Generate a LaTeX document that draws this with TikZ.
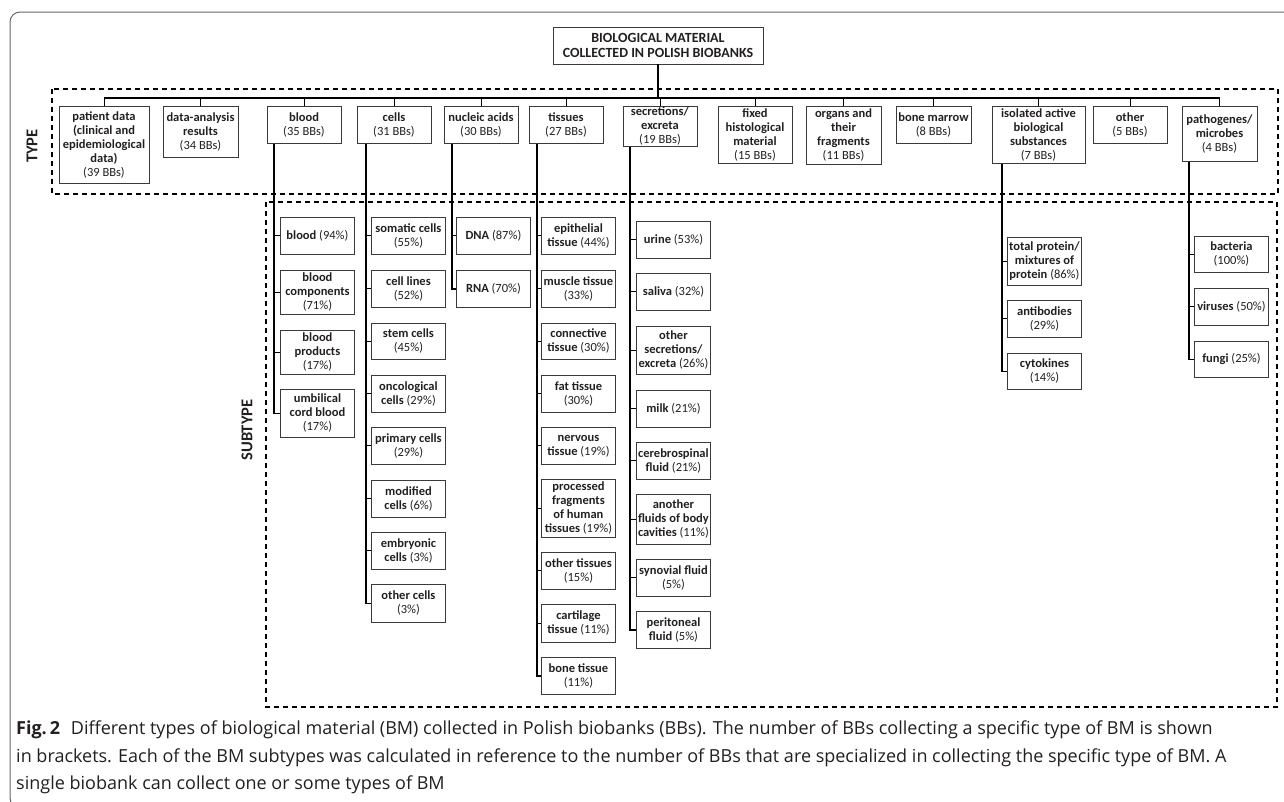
\documentclass[tikz,border=0pt]{standalone}
\usepackage{fontspec}
\setmainfont{Carlito}
\newfontfamily\capfont{Open Sans}
\definecolor{boxline}{HTML}{3A3A3A}
\definecolor{inkgray}{HTML}{231F20}

\tikzset{
  tbox/.style={draw=boxline, line width=0.9pt, align=center, anchor=north,
    minimum width=74pt, inner sep=0pt, text=inkgray,
    font=\fontsize{12.5}{14}\selectfont},
  sbox/.style={tbox, anchor=north west},
  trunk/.style={line width=1.7pt},
  tick/.style={line width=1pt},
  zone/.style={line width=1.3pt, dash pattern=on 5pt off 4pt},
  zonetitle/.style={rotate=90, font=\bfseries\fontsize{16.5}{16.5}\selectfont, text=inkgray}
}

\begin{document}
\begin{tikzpicture}[x=1pt,y=-1pt]
  \useasboundingbox (0,0) rectangle (1284,801);
  \clip (0,0) rectangle (1284,801);
  % frame round the figure
  \draw[gray!80!black, line width=1pt, rounded corners=10pt] (1300,12) -- (10,12) -- (10,808) -- (1300,808);

  % root
  \node[tbox, anchor=center, minimum width=210pt, minimum height=37pt,
        font=\bfseries\fontsize{14}{15}\selectfont] (root) at (658,45.5)
        {BIOLOGICAL MATERIAL\\COLLECTED IN POLISH BIOBANKS};

  % dashed zones
  \draw[zone] (52,89) rectangle (1278,194);
  \draw[zone] (266,202) rectangle (1277,707);
  \node[zonetitle] (typelbl) at (32,146) {TYPE};
  \node[zonetitle] (sublbl) at (247,430) {SUBTYPE};

  % types
  \node[tbox, minimum width=90pt, minimum height=77pt] (pat) at (104,106)
    {\textbf{patient data}\\\textbf{(clinical and}\\\textbf{epidemiological}\\\textbf{data)}\\(39 BBs)};
  \node[tbox, minimum width=75pt, minimum height=51pt] (ana) at (200.5,106)
    {\textbf{data-analysis}\\\textbf{results}\\(34 BBs)};
  \node[tbox, minimum height=37pt] (bld) at (304,106) {\textbf{blood}\\(35 BBs)};
  \node[tbox, minimum height=37pt] (cel) at (394,106) {\textbf{cells}\\(31 BBs)};
  \node[tbox, minimum height=37pt] (nuc) at (481,106) {\textbf{nucleic acids}\\(30 BBs)};
  \node[tbox, minimum height=37pt] (tis) at (566,106) {\textbf{tissues}\\(27 BBs)};
  \node[tbox, minimum height=40pt] (sec) at (660,106)
    {\textbf{secretions/}\\\textbf{excreta}\\(19 BBs)};
  \node[tbox, minimum height=57pt] (fix) at (755,106)
    {\textbf{fixed}\\\textbf{histological}\\\textbf{material}\\(15 BBs)};
  \node[tbox, minimum width=75pt, minimum height=58pt] (org) at (843.5,106)
    {\textbf{organs and}\\\textbf{their}\\\textbf{fragments}\\(11 BBs)};
  \node[tbox, minimum width=75pt, minimum height=37pt] (bon) at (933.5,106)
    {\textbf{bone marrow}\\(8 BBs)};
  \node[tbox, minimum width=93pt, minimum height=57pt] (iso) at (1038.5,106)
    {\textbf{isolated active}\\\textbf{biological}\\\textbf{substances}\\(7 BBs)};
  \node[tbox, minimum height=37pt] (oth) at (1130,106) {\textbf{other}\\(5 BBs)};
  \node[tbox, minimum width=75pt, minimum height=55pt] (pth) at (1219.5,106)
    {\textbf{pathogenes/}\\\textbf{microbes}\\(4 BBs)};

  % bus
  \coordinate (bus) at (658,98);
  \draw[trunk] (root.south) -- (bus);
  \draw[trunk] (bus -| pat.north) -- (bus -| pth.north);
  \foreach \n in {pat,ana,bld,cel,nuc,tis,sec,fix,org,bon,iso,oth,pth}
    \draw[tick] (bus -| \n.north) -- (\n.north);

  % blood
  \node[sbox, minimum height=37pt] (bl1) at (280,217) {\textbf{blood} (94\%)};
  \node[sbox, minimum height=44pt] (bl2) at (280,270) {\textbf{blood}\\\textbf{components}\\(71\%)};
  \node[sbox, minimum height=44pt] (bl3) at (280,330) {\textbf{blood}\\\textbf{products}\\(17\%)};
  \node[sbox, minimum height=48pt] (bl4) at (280,389) {\textbf{umbilical}\\\textbf{cord blood}\\(17\%)};
  \draw[trunk] ([xshift=-6pt]bl1.west |- bld.south) |- (bl4.west);
  \foreach \n in {bl1,bl2,bl3}
    \draw[tick] ([xshift=-6pt]\n.west) -- (\n.west);

  % cells
  \node[sbox, minimum height=37pt] (ce1) at (371,217) {\textbf{somatic cells}\\(55\%)};
  \node[sbox, minimum height=37pt] (ce2) at (371,270) {\textbf{cell lines}\\(52\%)};
  \node[sbox, minimum height=36pt] (ce3) at (371,323) {\textbf{stem cells}\\(45\%)};
  \node[sbox, minimum height=37pt] (ce4) at (371,375) {\textbf{oncological}\\\textbf{cells} (29\%)};
  \node[sbox, minimum height=37pt] (ce5) at (371,427) {\textbf{primary cells}\\(29\%)};
  \node[sbox, minimum height=37pt] (ce6) at (371,480) {\textbf{modified}\\\textbf{cells} (6\%)};
  \node[sbox, minimum height=37pt] (ce7) at (371,532) {\textbf{embryonic}\\\textbf{cells} (3\%)};
  \node[sbox, minimum height=38pt] (ce8) at (371,584) {\textbf{other cells}\\(3\%)};
  \draw[trunk] ([xshift=-5pt]ce1.west |- cel.south) |- (ce8.west);
  \foreach \n in {ce1,ce2,ce3,ce4,ce5,ce6,ce7}
    \draw[tick] ([xshift=-5pt]\n.west) -- (\n.west);

  % nucleic acids
  \node[sbox, minimum height=37pt] (na1) at (456,217) {\textbf{DNA} (87\%)};
  \node[sbox, minimum height=37pt] (na2) at (456,270) {\textbf{RNA} (70\%)};
  \draw[trunk] ([xshift=-4pt]na1.west |- nuc.south) |- (na2.west);
  \draw[tick] ([xshift=-4pt]na1.west) -- (na1.west);

  % tissues
  \node[sbox, minimum height=37pt] (ti1) at (541,217) {\textbf{epithelial}\\\textbf{tissue} (44\%)};
  \node[sbox, minimum height=37pt] (ti2) at (541,270) {\textbf{muscle tissue}\\(33\%)};
  \node[sbox, minimum height=36pt] (ti3) at (541,323) {\textbf{connective}\\\textbf{tissue} (30\%)};
  \node[sbox, minimum height=37pt] (ti4) at (541,375) {\textbf{fat tissue}\\(30\%)};
  \node[sbox, minimum height=37pt] (ti5) at (541,427) {\textbf{nervous}\\\textbf{tissue} (19\%)};
  \node[sbox, minimum height=58pt] (ti6) at (541,479) {\textbf{processed}\\\textbf{fragments}\\\textbf{of human}\\\textbf{tissues} (19\%)};
  \node[sbox, minimum height=37pt] (ti7) at (541,552) {\textbf{other tissues}\\(15\%)};
  \node[sbox, minimum height=38pt] (ti8) at (541,604) {\textbf{cartilage}\\\textbf{tissue} (11\%)};
  \node[sbox, minimum height=37pt] (ti9) at (541,657) {\textbf{bone tissue}\\(11\%)};
  \draw[trunk] ([xshift=-4pt]ti1.west |- tis.south) |- (ti9.west);
  \foreach \n in {ti1,ti2,ti3,ti4,ti5,ti6,ti7,ti8}
    \draw[tick] ([xshift=-4pt]\n.west) -- (\n.west);

  % secretions / excreta
  \node[sbox, minimum height=37pt] (se1) at (636,221) {\textbf{urine} (53\%)};
  \node[sbox, minimum height=37pt] (se2) at (636,273) {\textbf{saliva} (32\%)};
  \node[sbox, minimum height=48pt] (se3) at (636,326) {\textbf{other}\\\textbf{secretions/}\\\textbf{excreta} (26\%)};
  \node[sbox, minimum height=37pt] (se4) at (636,390) {\textbf{milk} (21\%)};
  \node[sbox, minimum height=37pt] (se5) at (636,442) {\textbf{cerebrospinal}\\\textbf{fluid} (21\%)};
  \node[sbox, minimum height=50pt] (se6) at (636,494) {\textbf{another}\\\textbf{fluids of body}\\\textbf{cavities} (11\%)};
  \node[sbox, minimum height=37pt] (se7) at (636,559) {\textbf{synovial fluid}\\(5\%)};
  \node[sbox, minimum height=37pt] (se8) at (636,611) {\textbf{peritoneal}\\\textbf{fluid} (5\%)};
  \draw[trunk] ([xshift=-6pt]se1.west |- sec.south) |- (se8.west);
  \foreach \n in {se1,se2,se3,se4,se5,se6,se7}
    \draw[tick] ([xshift=-6pt]\n.west) -- (\n.west);

  % isolated active biological substances
  \node[sbox, minimum height=48pt] (is1) at (1007,237) {\textbf{total protein/}\\\textbf{mixtures of}\\\textbf{protein} (86\%)};
  \node[sbox, minimum height=37pt] (is2) at (1007,300) {\textbf{antibodies}\\(29\%)};
  \node[sbox, minimum height=36pt] (is3) at (1007,353) {\textbf{cytokines}\\(14\%)};
  \draw[trunk] ([xshift=-5pt]is1.west |- iso.south) |- (is3.west);
  \foreach \n in {is1,is2}
    \draw[tick] ([xshift=-5pt]\n.west) -- (\n.west);

  % pathogenes / microbes
  \node[sbox, minimum height=36pt] (pa1) at (1194,236) {\textbf{bacteria}\\(100\%)};
  \node[sbox, minimum height=37pt] (pa2) at (1194,288) {\textbf{viruses} (50\%)};
  \node[sbox, minimum height=36pt] (pa3) at (1194,341) {\textbf{fungi} (25\%)};
  \draw[trunk] ([xshift=-5pt]pa1.west |- pth.south) |- (pa3.west);
  \foreach \n in {pa1,pa2}
    \draw[tick] ([xshift=-5pt]\n.west) -- (\n.west);

  % caption
  \node[anchor=north west, inner sep=0pt, align=left, text=inkgray,
        font=\capfont\fontsize{18}{27.5}\selectfont] (caption) at (16,721)
    {\textbf{Fig.\,2}\hspace{0.6em}Different types of biological material (BM) collected in Polish biobanks (BBs). The number of BBs collecting a specific type of BM is shown\\
     in brackets. Each of the BM subtypes was calculated in reference to the number of BBs that are specialized in collecting the specific type of BM. A\\
     single biobank can collect one or some types of BM};
\end{tikzpicture}
\end{document}
